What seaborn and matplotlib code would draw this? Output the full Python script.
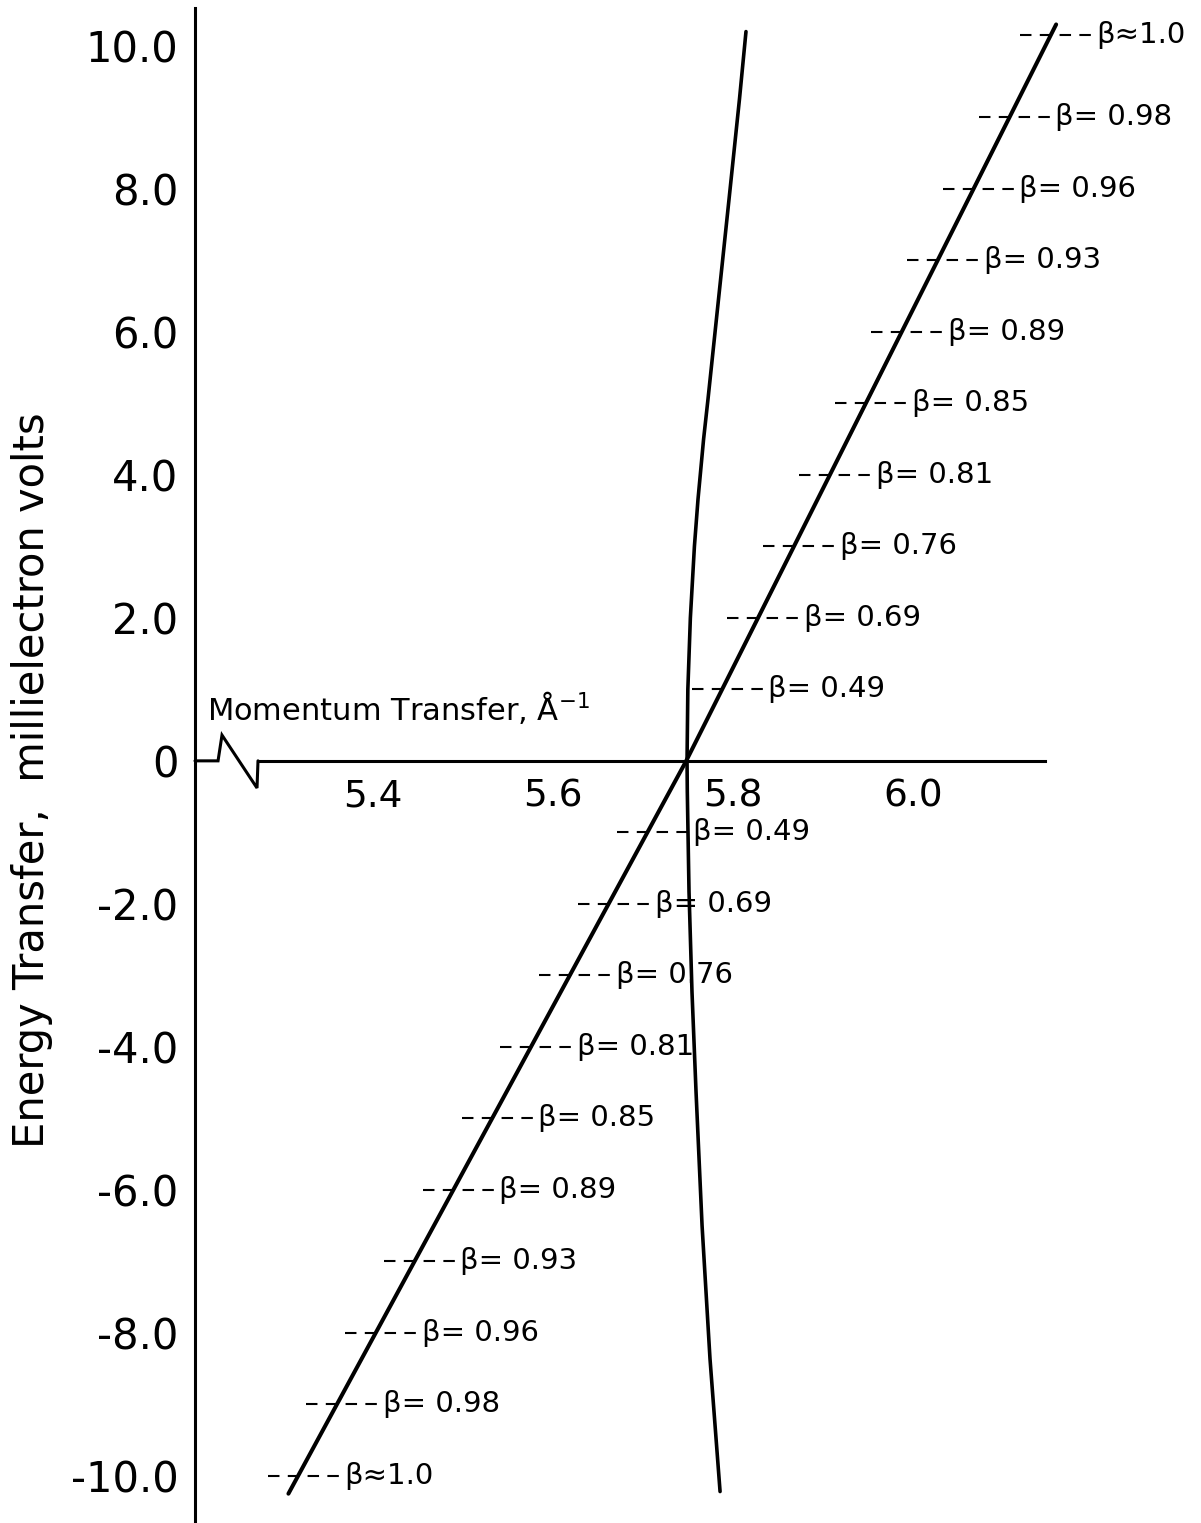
import numpy as np
import pandas as pd
import matplotlib
matplotlib.use("Agg")
import matplotlib.pyplot as plt
import seaborn as sns

sns.set_theme(style="white")
plt.rcParams['font.family'] = ['DejaVu Sans']
plt.rcParams['mathtext.fontset'] = 'dejavusans'

# ---------------- data ----------------
# straight line (energy transfer vs momentum transfer)
E_line = [-10.25, 0.0, 10.3]
Q_line = [5.306, 5.748, 6.159]

# curved line
E_curve = [-10.22, -8.36, -6.5, -4.63, -3.23, -1.83, -0.43, 0.0, 1.0, 2.0, 3.0,
           3.66, 4.5, 5.06, 6.46, 7.86, 9.26, 10.2]
Q_curve = [5.7856, 5.7744, 5.7656, 5.7589, 5.7544, 5.7511, 5.7492, 5.7489, 5.7498,
           5.7526, 5.7571, 5.7611, 5.7673, 5.7722, 5.7839, 5.7956, 5.8072, 5.8144]

# beta labels along the straight line
E_beta_pos = [1, 2, 3, 4, 5, 6, 7, 8, 9, 10.15]
E_beta_neg = [-1, -2, -3, -4, -5, -6, -7, -8, -9, -10]
beta_labels = ["β= 0.49", "β= 0.69", "β= 0.76", "β= 0.81", "β= 0.85",
               "β= 0.89", "β= 0.93", "β= 0.96", "β= 0.98", "β≈1.0"]

x_ticks = [5.4, 5.6, 5.8, 6.0]
x_tick_labels = ["5.4", "5.6", "5.8", "6.0"]
y_ticks = [10, 8, 6, 4, 2, 0, -2, -4, -6, -8, -10]
y_tick_labels = ["10.0", "8.0", "6.0", "4.0", "2.0", "0", "-2.0", "-4.0",
                 "-6.0", "-8.0", "-10.0"]

# ---------------- figure ----------------
W, H = 1201, 1523
fig = plt.figure(figsize=(W / 100, H / 100), dpi=100)
ax = fig.add_axes([195 / W, 0.0, 1000 / W, (H - 8) / H])
ax.set_xlim(5.2022, 6.3133)
ax.set_ylim(-10.66, 10.53)

df_line = pd.DataFrame({"Q": Q_line, "E": E_line})
df_curve = pd.DataFrame({"Q": Q_curve, "E": E_curve})
sns.lineplot(data=df_line, x="Q", y="E", sort=False, estimator=None,
             color="black", lw=2.9, ax=ax)
sns.lineplot(data=df_curve, x="Q", y="E", sort=False, estimator=None,
             color="black", lw=2.6, ax=ax)

# dashed markers + beta labels
E_all = np.array(E_beta_pos + E_beta_neg, dtype=float)
labels_all = beta_labels + beta_labels
Qc = np.interp(E_all, E_line, Q_line)
ax.hlines(E_all, Qc - 0.034, Qc + 0.048, colors="black", lw=1.5,
          linestyles=(0, (5.5, 4.0)))
for e, q, lab in zip(E_all, Qc, labels_all):
    ax.text(q + 0.051, e, lab, fontsize=21, va="center", ha="left",
            color="black")

# spines
for s in ["top", "right"]:
    ax.spines[s].set_visible(False)
ax.spines["left"].set_linewidth(2.2)
ax.spines["left"].set_color("black")
ax.spines["bottom"].set_position(("data", 0))
ax.spines["bottom"].set_linewidth(2.2)
ax.spines["bottom"].set_color("black")
ax.spines["bottom"].set_bounds(5.2722, 6.147)

# axis break symbol
ax.plot([5.2022, 5.2278, 5.2322, 5.2711, 5.2722],
        [0.0, 0.0, 0.36, -0.38, 0.0], color="black", lw=2.2,
        solid_joinstyle="miter", clip_on=False)

ax.set_xticks(x_ticks)
ax.set_xticklabels(x_tick_labels)
ax.set_yticks(y_ticks)
ax.set_yticklabels(y_tick_labels)
ax.tick_params(axis="x", direction="in", length=15, width=2, pad=13,
               labelsize=27, colors="black")
ax.tick_params(axis="y", direction="in", length=12, width=2, pad=12,
               labelsize=30, colors="black")
ax.set_xlabel("")
ax.set_ylabel("")

ax.text(5.2156, 0.57, "Momentum Transfer, Å$^{-1}$", fontsize=22,
        ha="left", va="baseline", color="black")
fig.text(32 / W, 0.488, "Energy Transfer,  millielectron volts", fontsize=30,
         rotation=90, ha="center", va="center", color="black")

fig.savefig("out.png", dpi=100, facecolor="white")
